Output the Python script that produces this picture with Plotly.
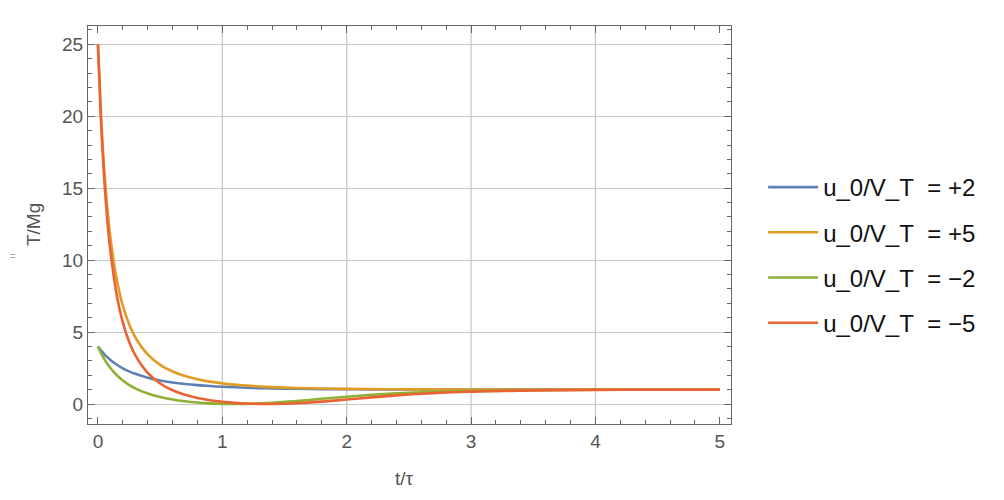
import plotly.graph_objects as go

t = [0, 0.025, 0.05, 0.075, 0.1, 0.15, 0.2, 0.25, 0.3, 0.4, 0.5, 0.6, 0.7, 0.8, 0.9,
     1.0, 1.1, 1.2, 1.3, 1.4, 1.6, 1.8, 2.0, 2.2, 2.4, 2.6, 2.8, 3.0, 3.5, 4.0, 4.5, 5.0]

T_p2 = [4, 3.720, 3.473, 3.257, 3.065, 2.742, 2.482, 2.271, 2.096, 1.829, 1.637, 1.496, 1.390, 1.310, 1.247,
        1.198, 1.159, 1.129, 1.104, 1.085, 1.056, 1.037, 1.025, 1.017, 1.011, 1.007, 1.005, 1.003, 1.001, 1.000, 1.000, 1.000]
T_p5 = [25, 19.95, 16.33, 13.64, 11.58, 8.712, 6.843, 5.559, 4.640, 3.442, 2.722, 2.258, 1.942, 1.719, 1.557,
        1.436, 1.345, 1.274, 1.219, 1.176, 1.115, 1.076, 1.050, 1.033, 1.022, 1.015, 1.010, 1.007, 1.002, 1.001, 1.000, 1.000]
T_m2 = [4, 3.538, 3.142, 2.800, 2.503, 2.016, 1.635, 1.334, 1.091, 0.730, 0.483, 0.309, 0.186, 0.101, 0.044,
        0.012, 0.0001, 0.0086, 0.0363, 0.0811, 0.208, 0.360, 0.508, 0.637, 0.739, 0.817, 0.873, 0.913, 0.967, 0.988, 0.995, 0.998]
T_m5 = [25, 19.555, 15.676, 12.816, 10.646, 7.628, 5.676, 4.343, 3.392, 2.161, 1.425, 0.953, 0.637, 0.417, 0.262,
        0.153, 0.079, 0.031, 0.0054, 0.0007, 0.050, 0.162, 0.309, 0.461, 0.597, 0.708, 0.794, 0.857, 0.945, 0.979, 0.992, 0.997]

names = ["u_0/V_T\u00a0 = +2", "u_0/V_T\u00a0 = +5", "u_0/V_T\u00a0 = \u22122", "u_0/V_T\u00a0 = \u22125"]
series = [T_p2, T_p5, T_m2, T_m5]
colors = ["#5E81B5", "#E19C24", "#8FB032", "#EB6235"]

x_grid = [1, 2, 3, 4]
x_ticks = [0, 1, 2, 3, 4, 5]
y_ticks = [0, 5, 10, 15, 20, 25]

FONT = "Liberation Sans, Arial, sans-serif"

fig = go.Figure()
for i, (nm, ys, c) in enumerate(zip(names, series, colors)):
    fig.add_trace(go.Scatter(x=t, y=ys, mode="lines", name=nm, legendgroup=str(i),
                             line=dict(color=c, width=2.6, shape="spline", smoothing=0.8)))

for gx in x_grid:
    fig.add_shape(type="line", xref="x", yref="paper", x0=gx, x1=gx, y0=0, y1=1,
                  line=dict(color="#c8c8c8", width=1.3), layer="below")

axis_common = dict(showline=True, linecolor="#666666", linewidth=1.2, mirror="allticks",
                   ticks="inside", tickcolor="#666666", tickwidth=1.2, ticklen=7,
                   zeroline=False, tickfont=dict(family=FONT, size=19, color="#555555"))

fig.update_xaxes(range=[-0.08, 5.09], tickvals=x_ticks, showgrid=False,
                 minor=dict(dtick=0.2, ticks="inside", ticklen=4, tickcolor="#666666", tickwidth=1, showgrid=False),
                 **axis_common)
fig.update_yaxes(range=[-1.39, 26.27], tickvals=y_ticks, showgrid=True, gridcolor="#c8c8c8", gridwidth=1.3,
                 minor=dict(dtick=1, tick0=0, ticks="inside", ticklen=4, tickcolor="#666666", tickwidth=1, showgrid=False),
                 **axis_common)

fig.add_annotation(text="T/Mg", xref="paper", yref="paper", x=-0.0855, y=0.5, textangle=-90,
                   xanchor="center", yanchor="middle",
                   showarrow=False, font=dict(family=FONT, size=19, color="#555555"))
fig.add_annotation(text="t/\u03c4", xref="paper", yref="paper", x=0.493, y=-0.136,
                   xanchor="center", yanchor="middle",
                   showarrow=False, font=dict(family=FONT, size=19, color="#555555"))
fig.add_annotation(text="=", xref="paper", yref="paper", x=-0.117, y=0.42,
                   xanchor="center", yanchor="middle",
                   showarrow=False, font=dict(family=FONT, size=10, color="#aaaaaa"))

fig.update_layout(
    width=1004, height=500,
    margin=dict(l=80, r=281, t=18, b=84),
    paper_bgcolor="white", plot_bgcolor="white",
    showlegend=True,
    legend=dict(x=1.05, y=0.4246, xanchor="left", yanchor="middle", itemwidth=50, tracegroupgap=11,
                font=dict(family=FONT, size=24, color="#111111"),
                bgcolor="rgba(0,0,0,0)"),
)

fig.write_html("out.html")
